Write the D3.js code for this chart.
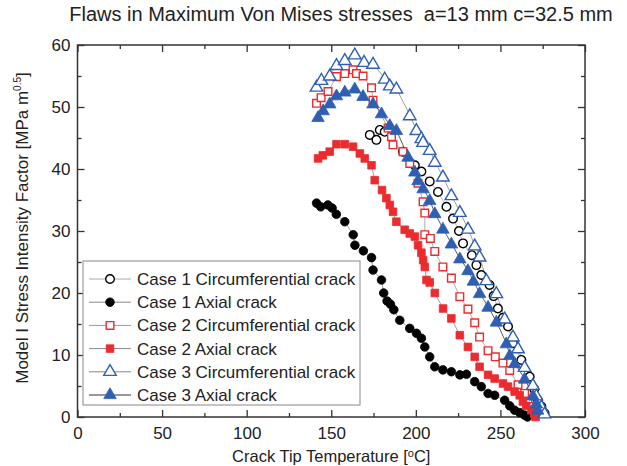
<!DOCTYPE html>
<html>
<head>
<meta charset="utf-8">
<script src="https://cdn.jsdelivr.net/npm/d3@7"></script>
<style>
  body { margin: 0; background: #fff; }
  svg { font-family: "Liberation Sans", Arial, sans-serif; }
  .axis path { display: none; }
  .axis line { stroke: #333; stroke-width: 1.3; }
  .axis text { font-size: 17px; fill: #222; }
</style>
</head>
<body>
<svg width="627" height="466"></svg>
<script>
// Case 1 circumferential crack
const c1CircT = [172.8,176.7,178.7,181.6,192.4,199.4,203.3,208.2,213.1,218.1,222,225.5,227.9,233.1,235.8,238.7,243.6,246,248.5,251.5,254.5,257.4,262.4,267.3,270,272.2,274.2,276.1];
const c1CircK = [45.5,44.7,46.3,46.0,42.8,40.6,39.6,38,36.3,33.9,32,30,28,26.1,24.5,22.9,21.3,19.5,17.5,16,14.6,11.9,9.2,6.5,4.5,2.7,1.7,0.6];
// Case 1 axial crack
const c1AxT = [141.3,143.8,148,150.5,153,158,163,164,169,173.8,174.7,179.7,181,183,185,187,190.5,196.4,200.4,203.3,205.3,208.2,211.2,216,221,226,229.9,234.8,238.7,242.7,246.6,252.5,255.5,258.4,261.4,264.3,266];
const c1AxK = [34.5,33.9,34.2,33.7,32.7,31.5,29.4,27.7,26.8,25.7,23.7,22.1,20,18.7,18.2,17.3,15.6,14.3,13.5,12.7,11.3,9.7,8.1,7.6,7.3,6.8,6.9,5.7,4.9,3.8,3.5,2.7,1.8,1.1,0.7,0.3,0];
// Case 2 circumferential crack
const c2CircT = [141.3,144,148.1,153.1,158,162.9,164.9,168.8,173.8,174.7,183.6,185.6,186.5,192.4,196.4,201.3,204.3,205.3,205.3,208.6,211.2,216,221,226,230.8,234.8,237.7,242.7,247,251.5,255.5,260.4,264.3,266.3,269.2,270.2];
const c2CircK = [50.6,51.5,52.5,54.9,55.4,56,55.4,55,53.1,51.1,46.6,45.2,43.9,42.8,40.9,37.7,34.7,32.9,29.4,28.8,26.7,24.2,22.4,19.4,17.4,15.2,12.9,10.7,9.7,8.7,7.5,5.2,3.8,2.5,1.7,0.6];
// Case 2 axial crack
const c2AxT = [142.2,145,149.1,153.1,158,162.9,166.9,169.8,173.8,175.7,180,182.6,184.6,186.5,188.5,193.4,196.4,199.4,201.3,203.3,204.3,205.3,206.3,208.2,211.2,216.1,221,226,230.8,234.8,237.7,242.7,246.6,251.5,254.5,258.4,261.4,263.3,265.3,268.3,270.2,270.8];
const c2AxK = [41.7,42.2,42.8,44,44,43.6,42.5,41.7,40.6,38.2,36.6,35.3,34.2,33.1,31.5,30.2,29.6,29.1,27.7,26.5,25.3,24.2,22.1,21.7,20,17.5,15.9,13.2,11.3,9.7,8.1,6.8,6.2,5.4,4.9,4.1,3.5,2.5,1.8,1.1,0.6,0];
// Case 3 circumferential crack
const c3CircT = [141.3,144.2,149.1,153.1,158,163.9,169.4,174.7,181.6,184.6,188.5,196.4,200.3,203.3,204.3,208.2,211.2,216,221,226,230.8,234.8,237.7,241.7,247.6,252.5,257.4,260.4,264.3,269.2,271.2,274.2,276.1];
const c3CircK = [53.3,54.4,55.1,56.8,57.6,58.5,57.3,57,54.6,53.5,53,48.7,46.3,45,44.4,43.1,41.2,38.8,35.8,33.1,30.4,27.7,25.9,22.1,20,15.9,13,11.1,8.1,5.2,3.5,1.7,0.6];
// Case 3 axial crack
const c3AxT = [142.2,145.2,149.1,153.1,158,163.9,168.8,174.7,179.7,184.6,188.5,195.4,199.4,201.3,204.3,208.2,211.2,216,221,226,230.8,234,237.7,242.7,247.6,253.5,255.5,258.4,264.3,269.2,271.2,272];
const c3AxK = [48.4,49.5,50.6,51.9,52.5,53,51.8,50.6,49,47.1,46.3,42,39.6,38.2,36.9,35,32.9,30.4,28,25.6,23.7,22,20,17.8,15.4,11.9,10,8.7,6.2,3.5,2.2,1.2];

const xTicks = [0, 50, 100, 150, 200, 250, 300];
const yTicks = [0, 10, 20, 30, 40, 50, 60];

const RED = "#ec2b2e", BLUE = "#2f5fb3";
const series = [
  {name: "Case 1 Circumferential crack", t: c1CircT, k: c1CircK, shape: "circle", color: "#000", filled: false, line: "#aaa"},
  {name: "Case 1 Axial crack", t: c1AxT, k: c1AxK, shape: "circle", color: "#000", filled: true, line: "#888"},
  {name: "Case 2 Circumferential crack", t: c2CircT, k: c2CircK, shape: "square", color: RED, filled: false, line: "#999"},
  {name: "Case 2 Axial crack", t: c2AxT, k: c2AxK, shape: "square", color: RED, filled: true, line: "#888"},
  {name: "Case 3 Circumferential crack", t: c3CircT, k: c3CircK, shape: "triangle", color: BLUE, filled: false, line: "#888"},
  {name: "Case 3 Axial crack", t: c3AxT, k: c3AxK, shape: "triangle", color: BLUE, filled: true, line: "#333"}
];

const svg = d3.select("svg"),
    margin = {top: 45, right: 42, bottom: 49, left: 77.5},
    width = +svg.attr("width") - margin.left - margin.right,
    height = +svg.attr("height") - margin.top - margin.bottom;

const x = d3.scaleLinear().domain([0, 300]).range([0, width]),
    y = d3.scaleLinear().domain([0, 60]).range([height, 0]);

const g = svg.append("g")
    .attr("transform", `translate(${margin.left},${margin.top})`);

// title
svg.append("text")
    .attr("x", 341)
    .attr("y", 21)
    .attr("text-anchor", "middle")
    .style("font-size", "20px")
    .style("fill", "#222")
    .text("Flaws in Maximum Von Mises stresses \u00a0a=13 mm c=32.5 mm");

// axes: major + minor ticks pointing inward on all sides
const minorX = d3.range(25, 300, 50), minorY = d3.range(5, 60, 10);

g.append("g").attr("class", "axis")
    .attr("transform", `translate(0,${height})`)
    .call(d3.axisBottom(x).tickValues(xTicks).tickSizeInner(-7).tickSizeOuter(0).tickPadding(10));
g.append("g").attr("class", "axis")
    .attr("transform", `translate(0,${height})`)
    .call(d3.axisBottom(x).tickValues(minorX).tickSizeInner(-4).tickSizeOuter(0).tickFormat(""));
g.append("g").attr("class", "axis")
    .call(d3.axisTop(x).tickValues(xTicks).tickSizeInner(-7).tickSizeOuter(0).tickFormat(""));
g.append("g").attr("class", "axis")
    .call(d3.axisTop(x).tickValues(minorX).tickSizeInner(-4).tickSizeOuter(0).tickFormat(""));

g.append("g").attr("class", "axis")
    .call(d3.axisLeft(y).tickValues(yTicks).tickSizeInner(-7).tickSizeOuter(0).tickPadding(7));
g.append("g").attr("class", "axis")
    .call(d3.axisLeft(y).tickValues(minorY).tickSizeInner(-4).tickSizeOuter(0).tickFormat(""));
g.append("g").attr("class", "axis")
    .attr("transform", `translate(${width},0)`)
    .call(d3.axisRight(y).tickValues(yTicks).tickSizeInner(-7).tickSizeOuter(0).tickFormat(""));
g.append("g").attr("class", "axis")
    .attr("transform", `translate(${width},0)`)
    .call(d3.axisRight(y).tickValues(minorY).tickSizeInner(-4).tickSizeOuter(0).tickFormat(""));

g.append("rect")
    .attr("width", width).attr("height", height)
    .attr("fill", "none").attr("stroke", "#333").attr("stroke-width", 1.5);

// axis titles
const xt = svg.append("text")
    .attr("x", margin.left + width / 2)
    .attr("y", 462)
    .attr("text-anchor", "middle")
    .style("font-size", "16.5px").style("fill", "#222");
xt.append("tspan").text("Crack Tip Temperature [");
xt.append("tspan").attr("dy", -5).style("font-size", "11px").text("o");
xt.append("tspan").attr("dy", 5).text("C]");

const yt = svg.append("text")
    .attr("transform", `translate(28,${margin.top + height / 2 - 3}) rotate(-90)`)
    .attr("text-anchor", "middle")
    .style("font-size", "17px").style("fill", "#222");
yt.append("tspan").text("Model I Stress Intensity Factor [MPa m");
yt.append("tspan").attr("dy", -7).style("font-size", "10px").text("0.5");
yt.append("tspan").attr("dy", 7).text("]");

// marker drawing
const symbolFor = s => s === "circle" ? d3.symbolCircle : s === "square" ? d3.symbolSquare : d3.symbolTriangle;
const sizeFor = s => s === "circle" ? 58 : s === "square" ? 58 : 68;

function drawMarker(sel, s) {
  sel.attr("d", d3.symbol().type(symbolFor(s.shape)).size(sizeFor(s.shape)))
    .attr("fill", s.filled ? s.color : "#fff")
    .attr("stroke", s.color)
    .attr("stroke-width", s.filled ? 0.8 : 1.4);
}

const line = d3.line().x(d => x(d[0])).y(d => y(d[1]));

series.forEach(s => {
  const pts = s.t.map((t, i) => [t, s.k[i]]);
  g.append("path")
      .datum(pts)
      .attr("d", line)
      .attr("fill", "none")
      .attr("stroke", s.line)
      .attr("stroke-width", 0.8);
});

series.forEach(s => {
  const pts = s.t.map((t, i) => [t, s.k[i]]);
  g.selectAll(null)
      .data(pts)
      .enter().append("path")
      .attr("transform", d => `translate(${x(d[0])},${y(d[1]) + (s.shape === "triangle" ? 1 : 0)})`)
      .call(drawMarker, s);
});

// legend
const legend = svg.append("g").attr("transform", "translate(83,261)");
legend.append("rect")
    .attr("width", 277).attr("height", 144)
    .attr("fill", "#fff").attr("stroke", "#888").attr("stroke-width", 1);

series.forEach((s, i) => {
  const row = legend.append("g").attr("transform", `translate(0,${18 + i * 23.2})`);
  row.append("line")
      .attr("x1", 6).attr("x2", 48)
      .attr("stroke", s.line).attr("stroke-width", 1);
  row.append("path")
      .attr("transform", "translate(27,0)")
      .call(drawMarker, s);
  row.append("text")
      .attr("x", 54).attr("dy", "0.35em")
      .style("font-size", "17px").style("fill", "#222")
      .text(s.name);
});
</script>
</body>
</html>
